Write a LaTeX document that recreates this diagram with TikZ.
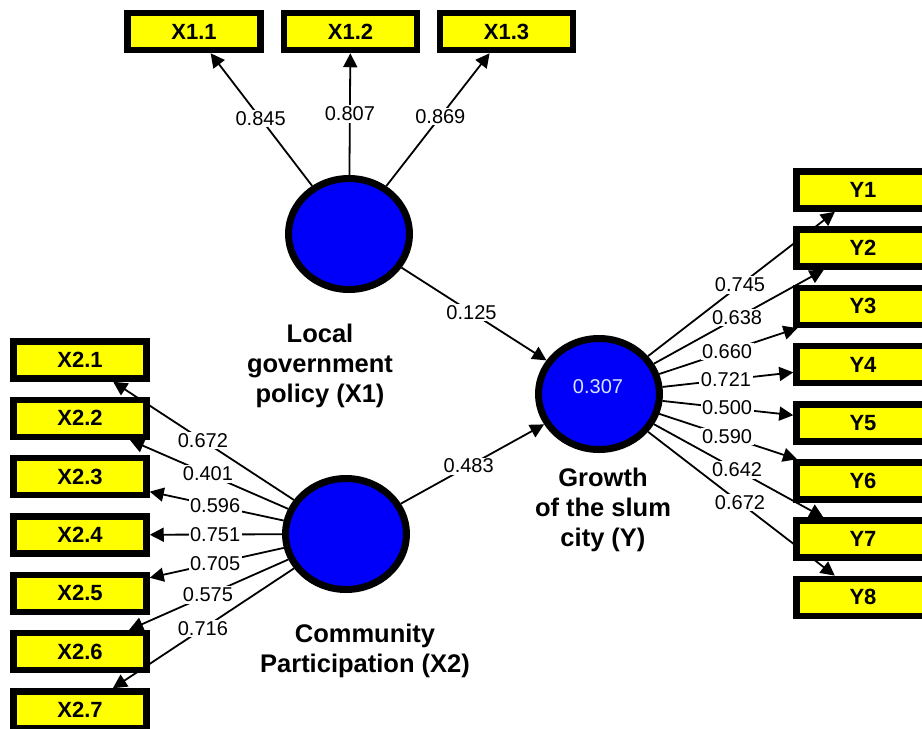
\documentclass[tikz,border=0pt]{standalone}
\usepackage{fontspec}
\setmainfont{Liberation Sans}
\usetikzlibrary{shapes.geometric,arrows.meta,calc,backgrounds}
\definecolor{lvblue}{RGB}{0,0,250}
\definecolor{indyellow}{RGB}{255,255,0}
\definecolor{lvtext}{RGB}{215,228,255}
\begin{document}
\begin{tikzpicture}[x=1pt,y=-1pt,
  latent/.style={ellipse, draw=black, line width=7pt, fill=lvblue, minimum width=121pt, minimum height=111pt, inner sep=0pt},
  indic/.style={rectangle, draw=black, line width=6.5pt, fill=indyellow, minimum width=133pt, minimum height=37pt, inner sep=0pt, font=\bfseries\fontsize{22}{24}\selectfont},
  conn/.style={line width=1.8pt, -{Triangle[length=14pt,width=14pt]}},
  coef/.style={fill=white, inner sep=1.5pt, font=\fontsize{20}{24}\selectfont},
  caption/.style={align=center, inner sep=0pt, font=\bfseries\fontsize{25.5}{30}\selectfont}
]
\useasboundingbox (0,0) rectangle (922,729);

% latent variables
\node[latent] (X1) at (349,234) {};
\node[latent] (X2) at (346,534) {};
\node[latent] (Y) at (599,394) {};
\node[text=lvtext, font=\fontsize{20}{24}\selectfont, inner sep=0pt] (Yval) at (598,387) {0.307};

% indicators X1
\node[indic] (X11) at (194,31.5) {X1.1};
\node[indic] (X12) at (350.5,31.5) {X1.2};
\node[indic] (X13) at (506.5,31.5) {X1.3};

% indicators X2
\node[indic] (X21) at (80,360) {X2.1};
\node[indic] (X22) at (80,418.3) {X2.2};
\node[indic] (X23) at (80,476.6) {X2.3};
\node[indic] (X24) at (80,535) {X2.4};
\node[indic] (X25) at (80,593.3) {X2.5};
\node[indic] (X26) at (80,651.6) {X2.6};
\node[indic] (X27) at (80,710) {X2.7};

% indicators Y
\node[indic] (Y1) at (863,190) {Y1};
\node[indic] (Y2) at (863,248.2) {Y2};
\node[indic] (Y3) at (863,306.4) {Y3};
\node[indic] (Y4) at (863,364.6) {Y4};
\node[indic] (Y5) at (863,422.8) {Y5};
\node[indic] (Y6) at (863,481) {Y6};
\node[indic] (Y7) at (863,539.2) {Y7};
\node[indic] (Y8) at (863,597.4) {Y8};

% captions
\node[caption] (lX1) at (320,366) {Local\\government\\policy (X1)};
\node[caption] (lX2) at (365,651) {Community\\Participation (X2)};
\node[caption] (lY) at (603,510) {Growth\\of the slum\\city (Y)};

\begin{scope}[on background layer]
  \fill[white] (0,0) rectangle (922,729);
  \draw[conn] (X1) -- (X11);
  \draw[conn] (X1) -- (X12);
  \draw[conn] (X1) -- (X13);
  \draw[conn] (X1) -- (Y);
  \draw[conn] (X2) -- (Y);
  \draw[conn] (X2) -- (X21);
  \draw[conn] (X2) -- (X22);
  \draw[conn] (X2) -- (X23);
  \draw[conn] (X2) -- (X24);
  \draw[conn] (X2) -- (X25);
  \draw[conn] (X2) -- (X26);
  \draw[conn] (X2) -- (X27);
  \draw[conn] (Y) -- (Y1);
  \draw[conn] (Y) -- (Y2);
  \draw[conn] (Y) -- (Y3);
  \draw[conn] (Y) -- (Y4);
  \draw[conn] (Y) -- (Y5);
  \draw[conn] (Y) -- (Y6);
  \draw[conn] (Y) -- (Y7);
  \draw[conn] (Y) -- (Y8);

  \node[coef] (c11) at ($(X1)!0.57!(X11)$) {0.845};
  \node[coef] (c12) at ($(X1)!0.593!(X12)$) {0.807};
  \node[coef] (c13) at ($(X1)!0.58!(X13)$) {0.869};
  \node[coef] (cX1Y) at ($(X1)!0.49!(Y)$) {0.125};
  \node[coef] (cX2Y) at ($(X2)!0.485!(Y)$) {0.483};

  \node[coef] (c21) at ($(X2)!0.538!(X21)$) {0.672};
  \node[coef] (c22) at ($(X2)!0.519!(X22)$) {0.401};
  \node[coef] (c23) at ($(X2)!0.492!(X23)$) {0.596};
  \node[coef] (c24) at ($(X2)!0.492!(X24)$) {0.751};
  \node[coef] (c25) at ($(X2)!0.492!(X25)$) {0.705};
  \node[coef] (c26) at ($(X2)!0.519!(X26)$) {0.575};
  \node[coef] (c27) at ($(X2)!0.538!(X27)$) {0.716};

  \node[coef] (cY1) at ($(Y)!0.534!(Y1)$) {0.745};
  \node[coef] (cY2) at ($(Y)!0.523!(Y2)$) {0.638};
  \node[coef] (cY3) at ($(Y)!0.485!(Y3)$) {0.660};
  \node[coef] (cY4) at ($(Y)!0.481!(Y4)$) {0.721};
  \node[coef] (cY5) at ($(Y)!0.485!(Y5)$) {0.500};
  \node[coef] (cY6) at ($(Y)!0.485!(Y6)$) {0.590};
  \node[coef] (cY7) at ($(Y)!0.523!(Y7)$) {0.642};
  \node[coef] (cY8) at ($(Y)!0.534!(Y8)$) {0.672};
\end{scope}
\end{tikzpicture}
\end{document}
